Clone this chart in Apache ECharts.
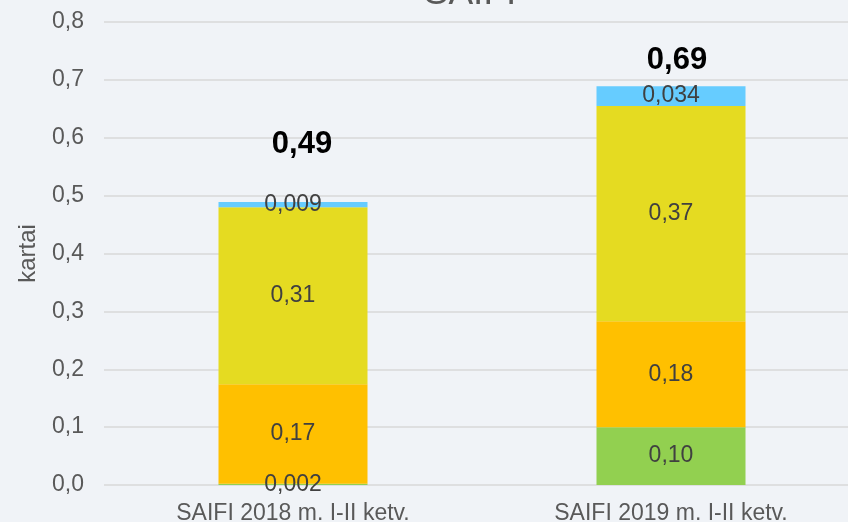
<!DOCTYPE html>
<html>
<head>
<meta charset="utf-8">
<script src="https://cdn.jsdelivr.net/npm/echarts@6/dist/echarts.min.js"></script>
<style>
  html, body { margin: 0; padding: 0; background: #F0F3F7; }
  #main { width: 848px; height: 522px; }
</style>
</head>
<body>
<div id="main"></div>
<script>
const categories = ['SAIFI 2018 m. I-II ketv.', 'SAIFI 2019 m. I-II ketv.'];
const greenVals = [0.002, 0.100];
const orangeVals = [0.172, 0.183];
const yellowVals = [0.306, 0.372];
const blueVals = [0.009, 0.034];
const totals = [0.49, 0.69];

// decimal comma like the original
function fmt(v) {
    let d = v < 0.05 ? 3 : 2;
    return v.toFixed(d).replace('.', ',');
}

let myChart = echarts.init(document.getElementById('main'));

const FONT = 'Liberation Sans';
const segLabel = {
    show: true,
    position: 'inside',
    color: '#404040',
    fontSize: 23,
    fontFamily: FONT,
    formatter: p => fmt(p.value)
};

function stackSeries(name, vals, color) {
    return {
        name: name,
        type: 'bar',
        stack: 'total',
        barWidth: 149,
        itemStyle: { color: color },
        label: segLabel,
        data: vals
    };
}

let option = {
    backgroundColor: '#F0F3F7',
    animation: false,
    title: {
        text: 'SAIFI',
        left: 465,
        textAlign: 'center',
        top: -30,
        textStyle: { fontFamily: FONT, fontSize: 37, fontWeight: 'normal', color: '#595959' }
    },
    grid: { left: 104, width: 756, top: 22, bottom: 37, outerBoundsMode: 'none', containLabel: false },
    xAxis: {
        type: 'category',
        data: categories,
        axisLine: { show: false },
        axisTick: { show: false },
        axisLabel: { color: '#595959', fontSize: 23, fontFamily: FONT, margin: 17 }
    },
    yAxis: {
        type: 'value',
        min: 0,
        max: 0.8,
        interval: 0.1,
        name: 'kartai',
        nameLocation: 'middle',
        nameGap: 64,
        nameTextStyle: { color: '#595959', fontSize: 24, fontFamily: FONT },
        axisLine: { show: false },
        axisTick: { show: false },
        axisLabel: {
            color: '#595959', fontSize: 23, fontFamily: FONT, margin: 20,
            formatter: v => v.toFixed(1).replace('.', ',')
        },
        splitLine: { lineStyle: { color: '#D9D9D9', width: 1.5 } }
    },
    series: [
        stackSeries('green', greenVals, '#92D050'),
        stackSeries('orange', orangeVals, '#FFC000'),
        stackSeries('yellow', yellowVals, '#E5DB21'),
        stackSeries('blue', blueVals, '#66CCFF'),
        {
            name: 'total',
            type: 'bar',
            barWidth: 149,
            barGap: '-100%',
            itemStyle: { color: 'rgba(0,0,0,0)' },
            z: 1,
            label: {
                show: true,
                position: 'top',
                color: '#000000',
                fontSize: 31,
                fontWeight: 'bold',
                fontFamily: FONT,
                formatter: p => p.value.toFixed(2).replace('.', ',')
            },
            data: [
                { value: totals[0], label: { distance: 41, offset: [9, 0] } },
                { value: totals[1], label: { distance: 10, offset: [6, 0] } }
            ]
        }
    ]
};
myChart.setOption(option);
</script>
</body>
</html>
